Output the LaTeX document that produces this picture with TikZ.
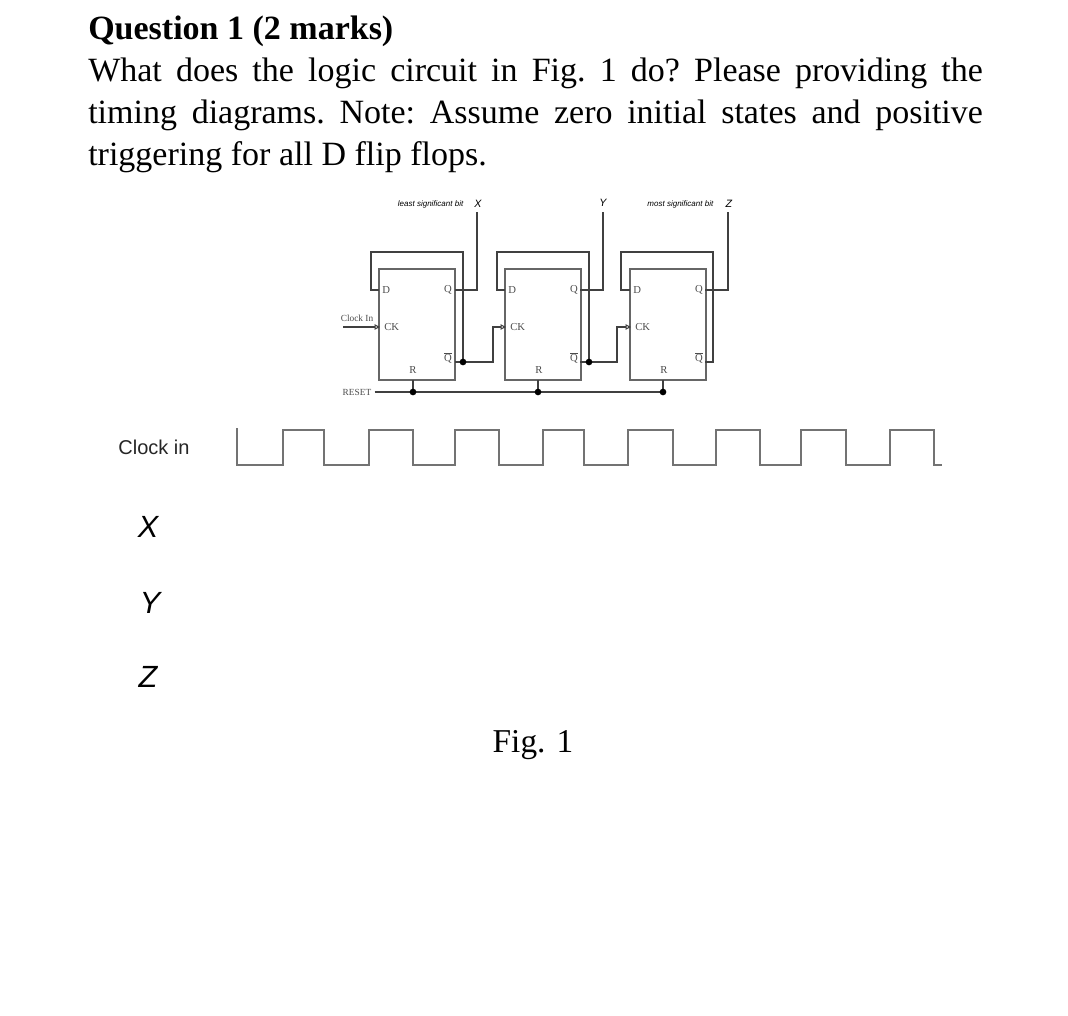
\documentclass[tikz,border=0pt]{standalone}
\usepackage{fontspec}
\setmainfont{Liberation Serif}
\newfontfamily\arialf{Liberation Sans}
\usetikzlibrary{arrows.meta}
\begin{document}
\begin{tikzpicture}[x=0.75pt,y=-0.75pt,
  wire/.style={draw=black!75,line width=0.8pt},
  ffbox/.style={draw=black!60,line width=0.8pt},
  pin/.style={font=\fontsize{8}{9}\selectfont,text=black!70,inner sep=0pt},
  dotc/.style={circle,fill=black,inner sep=0pt,minimum size=5pt},
  txtline/.style={anchor=base west,inner sep=0pt,font=\fontsize{25.5}{30}\selectfont},
  sig/.style={font=\arialf\itshape\fontsize{23}{25}\selectfont,inner sep=0pt}]
\useasboundingbox[fill=white] (0,0) rectangle (1068,1016);
\node[txtline] (t0) at (88,40) {\textbf{Question 1 (2 marks)}};
\node[txtline] (t1) at (88,82) {\frenchspacing\makebox[671pt][s]{What does the logic circuit in Fig. 1 do? Please providing the}};
\node[txtline] (t2) at (88,124) {\frenchspacing\makebox[671pt][s]{timing diagrams. Note: Assume zero initial states and positive}};
\node[txtline] (t3) at (88,166) {\frenchspacing triggering for all D flip flops.};
% flip flops
\foreach \i/\l in {1/379,2/505,3/630}{
  \draw[ffbox] (\l,269) rectangle ++(76,111);
  \node[pin,anchor=west] (d\i) at (\l+3,290) {D};
  \node[pin,anchor=east] (q\i) at (\l+73,290) {Q};
  \node[pin,anchor=west] (ck\i) at (\l+5,327) {CK};
  \node[pin,anchor=east] (qb\i) at (\l+73,358) {$\overline{\mathrm{Q}}$};
  \node[pin] (r\i) at (\l+34,370) {R};
  \draw[wire,-{Triangle[open,length=4pt,width=4pt]}] (\l-6,327) -- (\l+1,327);
}
% FF1
\draw[wire] (379,290) -- (371,290) -- (371,252) -- (463,252) -- (463,362);
\draw[wire] (455,362) -- (493,362) -- (493,327) -- (499,327);
\node[dotc] at (463,362) {};
\draw[wire] (455,290) -- (477,290) -- (477,212);
% FF2
\draw[wire] (505,290) -- (497,290) -- (497,252) -- (589,252) -- (589,362);
\draw[wire] (580,362) -- (617,362) -- (617,327) -- (624,327);
\node[dotc] at (589,362) {};
\draw[wire] (580,290) -- (603,290) -- (603,212);
% FF3
\draw[wire] (630,290) -- (621,290) -- (621,252) -- (713,252) -- (713,362) -- (705,362);
\draw[wire] (705,290) -- (728,290) -- (728,212);
% clock in
\node[pin,font=\fontsize{7}{8}\selectfont] (clkin) at (357,318) {Clock In};
\draw[wire] (343,327) -- (373,327);
% reset
\node[pin,font=\fontsize{7}{8}\selectfont] (rst) at (357,392) {RESET};
\draw[wire] (rst.east) ++(3,0) -- (665,392);
\foreach \x in {413,538,663}{\draw[wire] (\x,380) -- (\x,392); \node[dotc] at (\x,392) {};}
% labels
\node[font=\arialf\itshape\fontsize{6}{7}\selectfont,anchor=east] (lsb) at (468,204) {least significant bit};
\node[font=\arialf\itshape\fontsize{8}{9}\selectfont] (xl) at (478,204) {X};
\node[font=\arialf\itshape\fontsize{8}{9}\selectfont] (yl) at (603,203) {Y};
\node[font=\arialf\itshape\fontsize{6}{7}\selectfont,anchor=east] (msb) at (718,204) {most significant bit};
\node[font=\arialf\itshape\fontsize{8}{9}\selectfont] (zl) at (729,204) {Z};
% timing
\node[font=\arialf\fontsize{15}{17}\selectfont,text=black!85] (clk) at (154,447) {Clock in};
\draw[draw=black!55,line width=1.2pt] (237,428) -- (237,465) -- (283,465) -- (283,430) -- (324,430) -- (324,465)
 -- (369,465) -- (369,430) -- (413,430) -- (413,465)
 -- (455,465) -- (455,430) -- (499,430) -- (499,465)
 -- (543,465) -- (543,430) -- (584,430) -- (584,465)
 -- (628,465) -- (628,430) -- (673,430) -- (673,465)
 -- (716,465) -- (716,430) -- (760,430) -- (760,465)
 -- (801,465) -- (801,430) -- (846,430) -- (846,465)
 -- (890,465) -- (890,430) -- (934,430) -- (934,465) -- (942,465);
\node[sig] (sx) at (148,527) {X};
\node[sig] (sy) at (150,603) {Y};
\node[sig] (sz) at (148,677) {Z};
\node[font=\fontsize{25}{28}\selectfont] (fig) at (533,745) {Fig. 1};
\end{tikzpicture}
\end{document}
